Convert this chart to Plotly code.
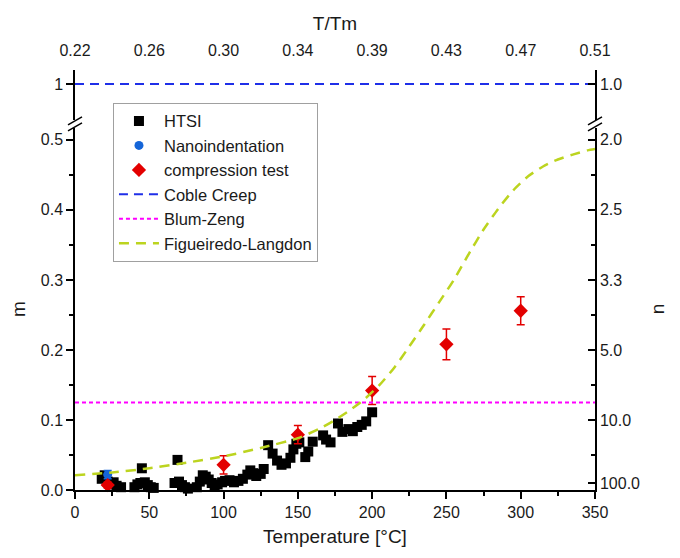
import plotly.graph_objects as go

# ---------------- data ----------------
htsi_T = [18, 20, 22, 24, 26, 28, 31, 40, 42, 44, 45, 47, 49, 51, 53,
          67, 69, 70, 72, 74, 76, 82, 84, 86, 88, 90, 92, 94, 96, 99,
          101, 104, 107, 110, 113, 116, 118, 120, 122, 125, 127, 130, 133,
          136, 139, 142, 145, 147, 149, 151, 155, 157, 160, 167, 169, 172,
          177, 180, 184, 187, 190, 193, 196, 200]
htsi_m = [0.016, 0.021, 0.012, 0.008, 0.011, 0.006, 0.004, 0.004, 0.008, 0.010, 0.031, 0.011, 0.007, 0.004, 0.003,
          0.010, 0.043, 0.012, 0.007, 0.004, 0.002, 0.004, 0.012, 0.021, 0.019, 0.015, 0.010, 0.006, 0.008, 0.011,
          0.013, 0.014, 0.011, 0.013, 0.016, 0.022, 0.028, 0.024, 0.020, 0.023, 0.030, 0.064, 0.052,
          0.042, 0.036, 0.038, 0.046, 0.058, 0.066, 0.068, 0.047, 0.055, 0.069, 0.078, 0.072, 0.068,
          0.095, 0.083, 0.087, 0.084, 0.090, 0.093, 0.098, 0.111]

nano_T = [22]
nano_m = [0.022]
nano_err = [0.006]

comp_T = [22, 100, 150, 200, 250, 300]
comp_m = [0.007, 0.036, 0.079, 0.142, 0.208, 0.256]
comp_err = [0.004, 0.013, 0.013, 0.020, 0.022, 0.020]

coble_T = [0, 350]
coble_m = [1.0, 1.0]

blum_T = [0, 350]
blum_m = [0.125, 0.125]

fl_T = [0, 25, 50, 75, 100, 125, 150, 165, 175, 185, 195, 205, 215, 225, 235, 245,
        255, 265, 275, 285, 295, 305, 315, 325, 335, 345, 350]
fl_m = [0.021, 0.025, 0.031, 0.039, 0.048, 0.060, 0.074, 0.088, 0.100, 0.114, 0.130, 0.150,
        0.175, 0.205, 0.236, 0.268, 0.300, 0.337, 0.372, 0.402, 0.428, 0.448, 0.462, 0.472,
        0.479, 0.485, 0.487]

x_ticks = [0, 50, 100, 150, 200, 250, 300, 350]
ttm_labels = ["0.22", "0.26", "0.30", "0.34", "0.39", "0.43", "0.47", "0.51"]
m_ticks = [0.0, 0.1, 0.2, 0.3, 0.4, 0.5]
m_labels = ["0.0", "0.1", "0.2", "0.3", "0.4", "0.5"]
n_tickpos = [0.5, 0.4, 0.3, 0.2, 0.1, 0.01]
n_labels = ["2.0", "2.5", "3.3", "5.0", "10.0", "100.0"]

FONT = "Liberation Sans, Arial, sans-serif"
TXT = "#1a1a1a"

fig = go.Figure()

fig.add_trace(go.Scatter(x=htsi_T, y=htsi_m, mode="markers", name="HTSI",
                         marker=dict(symbol="square", size=10, color="black"),
                         cliponaxis=False))
fig.add_trace(go.Scatter(x=nano_T, y=nano_m, mode="markers", name="Nanoindentation",
                         marker=dict(symbol="circle", size=9, color="#1565d8"),
                         error_y=dict(type="data", array=nano_err, color="#1565d8", thickness=1.5, width=4),
                         cliponaxis=False))
fig.add_trace(go.Scatter(x=comp_T, y=comp_m, mode="markers", name="compression test",
                         marker=dict(symbol="diamond", size=11, color="#e30000"),
                         error_y=dict(type="data", array=comp_err, color="#e30000", thickness=1.5, width=4),
                         cliponaxis=False))
fig.add_trace(go.Scatter(x=coble_T, y=coble_m, mode="lines", name="Coble Creep",
                         line=dict(color="#1f2fe8", width=2, dash="9px,6px"),
                         xaxis="x", yaxis="y3"))
fig.add_trace(go.Scatter(x=blum_T, y=blum_m, mode="lines", name="Blum-Zeng",
                         line=dict(color="#ff00ff", width=2, dash="4px,3px")))
fig.add_trace(go.Scatter(x=fl_T, y=fl_m, mode="lines", name="Figueiredo-Langdon",
                         line=dict(color="#bcd41f", width=2.5, dash="10px,7px", shape="spline",
                                   smoothing=0.6)))

# dummy traces to make auxiliary axes render
fig.add_trace(go.Scatter(x=[0, 350], y=[None, None], mode="lines", showlegend=False,
                         hoverinfo="skip", xaxis="x2", yaxis="y4", line=dict(width=0)))
fig.add_trace(go.Scatter(x=[0, 350], y=[None, None], mode="lines", showlegend=False,
                         hoverinfo="skip", xaxis="x", yaxis="y2", line=dict(width=0)))

axis_common = dict(showgrid=False, zeroline=False, linecolor="black", linewidth=1.5,
                   tickcolor="black", tickwidth=1.5,
                   tickfont=dict(family=FONT, size=16, color=TXT))

LOW_TOP = 0.862
UP_BOT = 0.881

fig.update_layout(
    width=680, height=558,
    margin=dict(l=75, r=85, t=70, b=68),
    paper_bgcolor="white", plot_bgcolor="white",
    font=dict(family=FONT, color=TXT),
    xaxis=dict(range=[0, 350], tickvals=x_ticks, showline=True, ticks="outside", ticklen=7,
               minor=dict(tickvals=[25, 75, 125, 175, 225, 275, 325], ticks="outside", ticklen=4,
                          tickcolor="black", tickwidth=1.5),
               anchor="y", title=dict(text="Temperature [°C]", font=dict(size=19, family=FONT, color=TXT),
                                      standoff=10),
               **axis_common),
    xaxis2=dict(range=[0, 350], tickvals=x_ticks, ticktext=ttm_labels, overlaying="x", side="top",
                anchor="y3", showline=False, ticks="", ticklabelstandoff=10,
                title=dict(text="T/Tm", font=dict(size=19, family=FONT, color=TXT), standoff=6),
                **axis_common),
    yaxis=dict(domain=[0, LOW_TOP], range=[0, 0.517], tickvals=m_ticks, ticktext=m_labels,
               showline=True, ticks="outside", ticklen=7,
               minor=dict(tickvals=[0.05, 0.15, 0.25, 0.35, 0.45], ticks="outside", ticklen=4,
                          tickcolor="black", tickwidth=1.5),
               anchor="x", title=dict(text="m", font=dict(size=19, family=FONT, color=TXT), standoff=10),
               **axis_common),
    yaxis2=dict(range=[0, 0.517], overlaying="y", side="right", anchor="x",
                tickvals=n_tickpos, ticktext=n_labels, showline=True, ticks="inside", ticklen=7,
                minor=dict(tickvals=[0.05, 0.15, 0.25, 0.35, 0.45], ticks="inside", ticklen=4,
                           tickcolor="black", tickwidth=1.5),
                title=dict(text="n", font=dict(size=19, family=FONT, color=TXT), standoff=12),
                **axis_common),
    yaxis3=dict(domain=[UP_BOT, 1], range=[0.28, 1.28], tickvals=[1], ticktext=["1"],
                showline=True, ticks="outside", ticklen=7, anchor="x", **axis_common),
    yaxis4=dict(domain=[UP_BOT, 1], range=[0.28, 1.28], tickvals=[1], ticktext=["1.0"],
                overlaying="y3", side="right", anchor="x2",
                showline=True, ticks="inside", ticklen=7, **axis_common),
    legend=dict(x=0.073, y=0.922, xanchor="left", yanchor="top",
                bgcolor="white", bordercolor="#a0a0a0", borderwidth=1,
                font=dict(family=FONT, size=16.5, color=TXT), traceorder="normal",
                itemwidth=40, tracegroupgap=0),
    showlegend=True,
)

# axis break marks
BRK = (UP_BOT + LOW_TOP) / 2
for xa in (0, 1):
    for dy in (-3, 3):
        fig.add_shape(type="line", xref="paper", yref="paper",
                      xsizemode="pixel", ysizemode="pixel",
                      xanchor=xa, yanchor=BRK,
                      x0=-7, x1=7, y0=dy - 4, y1=dy + 4,
                      line=dict(color="black", width=1.5))

fig.write_html("out.html")
